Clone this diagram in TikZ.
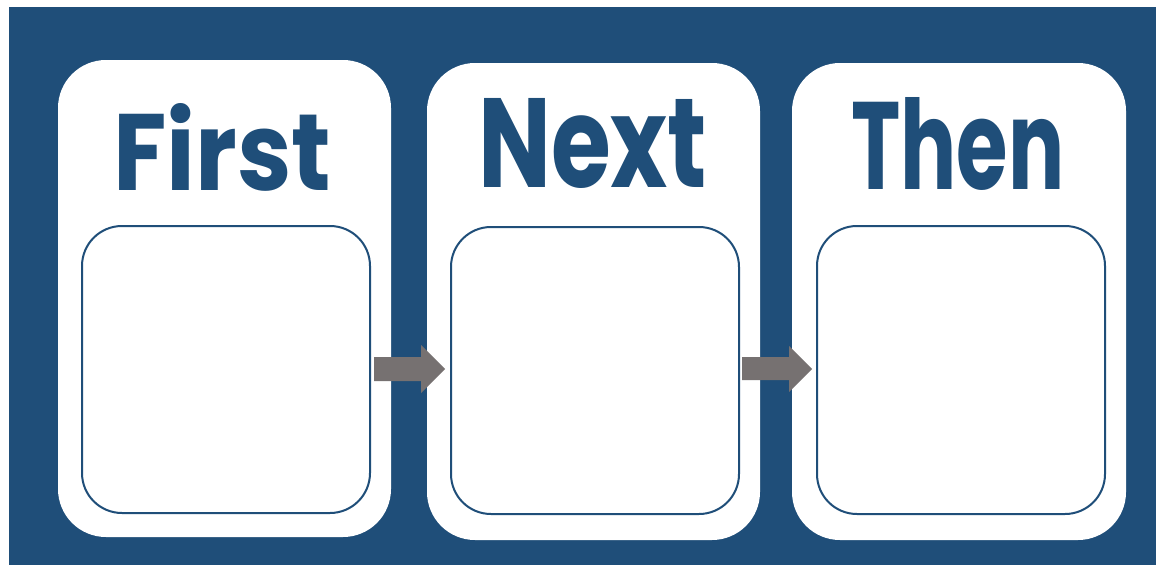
\documentclass[tikz,border=0pt]{standalone}
\usepackage{fontspec}
\setmainfont{Poppins}
\usepackage{graphicx}
\definecolor{navy}{HTML}{1F4E79}
\definecolor{arrowgray}{HTML}{767171}
\begin{document}
\begin{tikzpicture}[x=1pt,y=-1pt,
  panel/.style={fill=white,draw=none,rounded corners=48pt},
  inner/.style={fill=white,draw=navy,line width=2pt,rounded corners=40pt},
  title/.style={inner sep=0pt,anchor=north west,text=navy,font=\bfseries},
  arrowshape/.style={fill=arrowgray,draw=none}]
\useasboundingbox (0,0) rectangle (1156,565);
\fill[white] (0,0) rectangle (1156,565);
\fill[navy] (9,7) rectangle (1156,565);
% panels
\path[panel] (58,60) rectangle (391,537);
\path[panel] (427,63) rectangle (760,540);
\path[panel] (792,63) rectangle (1126,540);
% inner boxes
\node[inner, minimum width=288pt, minimum height=287pt, anchor=north west, inner sep=0pt] (b1) at (81,225) {};
\node[inner, minimum width=288pt, minimum height=287pt, anchor=north west, inner sep=0pt] (b2) at (450,226) {};
\node[inner, minimum width=288pt, minimum height=288pt, anchor=north west, inner sep=0pt] (b3) at (816,225) {};
% titles
\node[title] (t1) at (113,103) {\resizebox{218pt}{87pt}{First}};
\node[title] (t2) at (478,98) {\resizebox{229pt}{89pt}{Next}};
\node[title] (t3) at (851,97) {\resizebox{213pt}{92pt}{Then}};
% arrows
\fill[arrowshape] (374,357) -- (421,357) -- (421,345) -- (445,369) -- (421,393) -- (421,381) -- (374,381) -- cycle;
\fill[arrowshape] (742,357) -- (789,357) -- (789,346) -- (812,369) -- (789,392) -- (789,380) -- (742,380) -- cycle;
\end{tikzpicture}
\end{document}
